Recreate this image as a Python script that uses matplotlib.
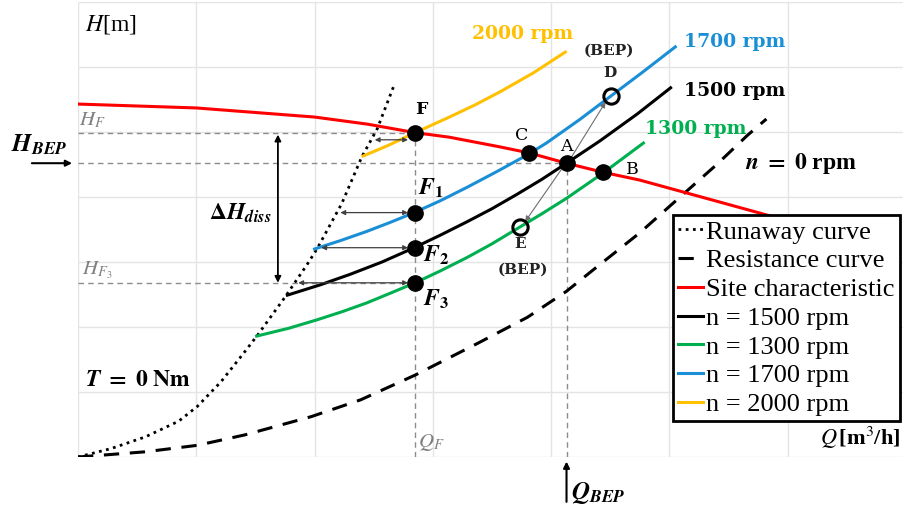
import numpy as np
import matplotlib
matplotlib.use("Agg")
import matplotlib.pyplot as plt

plt.rcParams['font.family'] = ['Liberation Serif', 'DejaVu Serif']
plt.rcParams['mathtext.fontset'] = 'stix'

# pump characteristics, Q and H in grid units
site_q = [0, 1.0, 2.0, 2.45, 2.85, 3.14, 3.57, 3.81, 4.13, 4.44, 4.75, 5.15, 5.77, 5.95]
site_h = [5.43, 5.37, 5.23, 5.12, 4.99, 4.92, 4.77, 4.68, 4.52, 4.38, 4.26, 4.06, 3.75, 3.66]

n1500_q = [1.77, 2.05, 2.30, 2.57, 2.83, 3.06, 3.29, 3.50, 3.71, 3.92, 4.13, 4.41, 4.73, 5.01]
n1500_h = [2.49, 2.65, 2.81, 3.00, 3.21, 3.41, 3.62, 3.82, 4.04, 4.27, 4.52, 4.86, 5.28, 5.68]

n1300_q = [1.51, 1.78, 2.02, 2.24, 2.44, 2.64, 2.85, 3.06, 3.29, 3.50, 3.71, 3.92, 4.13, 4.44, 4.78]
n1300_h = [1.86, 1.98, 2.11, 2.24, 2.37, 2.52, 2.68, 2.86, 3.07, 3.28, 3.51, 3.74, 3.98, 4.37, 4.83]

n1700_q = [2.0, 2.22, 2.44, 2.64, 2.83, 3.06, 3.29, 3.55, 3.80, 3.96, 4.24, 4.51, 4.78, 5.05]
n1700_h = [3.20, 3.33, 3.47, 3.61, 3.75, 3.94, 4.15, 4.40, 4.65, 4.83, 5.19, 5.56, 5.93, 6.31]

n2000_q = [2.41, 2.63, 2.85, 3.14, 3.36, 3.57, 3.85, 4.12]
n2000_h = [4.63, 4.80, 4.99, 5.23, 5.42, 5.62, 5.91, 6.23]

runaway_q = [0, 0.28, 0.57, 0.85, 1.01, 1.21, 1.41, 1.52, 1.75, 1.94, 2.02, 2.23, 2.40, 2.53, 2.67]
runaway_h = [0, 0.13, 0.31, 0.55, 0.78, 1.16, 1.62, 1.88, 2.46, 2.97, 3.20, 3.90, 4.62, 5.05, 5.71]

resist_q = [0, 0.57, 1.01, 1.41, 1.97, 2.39, 2.85, 3.38, 3.80, 4.13, 4.37, 4.75, 5.09, 5.40, 5.66, 5.82]
resist_h = [0, 0.08, 0.18, 0.34, 0.62, 0.88, 1.26, 1.75, 2.15, 2.55, 2.90, 3.45, 4.0, 4.5, 4.95, 5.2]

# operating points
pt_F = (2.85, 4.99)
pt_C = (3.81, 4.68)
pt_A = (4.13, 4.52)
pt_B = (4.44, 4.38)
pt_F1 = (2.85, 3.76)
pt_F2 = (2.85, 3.22)
pt_F3 = (2.85, 2.68)
pt_D = (4.51, 5.56)
pt_E = (3.74, 3.54)

RED = '#ff0000'
GREEN = '#00b050'
BLUE = '#1a8fd6'
YELLOW = '#ffc000'
GRAY = '#8c8c8c'

fig = plt.figure(figsize=(9.04, 5.14), dpi=100)
ax = fig.add_axes([0.0863, 0.1109, 0.9159, 0.8852])
ax.set_xlim(0, 7)
ax.set_ylim(0, 7)
ax.set_xticks(np.arange(0, 8))
ax.set_yticks(np.arange(0, 8))
ax.tick_params(length=0, labelbottom=False, labelleft=False)
ax.grid(True, color='#e4e4e4', lw=1)
for s in ax.spines.values():
    s.set_visible(False)

# guide lines to F, F3 and A
dash = (0, (4, 3))
ax.plot([0, pt_F[0]], [pt_F[1], pt_F[1]], ls=dash, color=GRAY, lw=1)
ax.plot([0, pt_A[0]], [pt_A[1], pt_A[1]], ls=dash, color=GRAY, lw=1)
ax.plot([0, pt_F3[0]], [pt_F3[1], pt_F3[1]], ls=dash, color=GRAY, lw=1)
ax.plot([pt_F[0], pt_F[0]], [0, pt_F[1]], ls=dash, color=GRAY, lw=1)
ax.plot([pt_A[0], pt_A[0]], [0, pt_A[1]], ls=dash, color=GRAY, lw=1)

ax.plot(runaway_q, runaway_h, color='black', ls=(0, (1, 1.6)), lw=2, label='Runaway curve')
ax.plot(resist_q, resist_h, color='black', ls=(0, (5, 3.5)), lw=2.2, label='Resistance curve')
ax.plot(site_q, site_h, color=RED, lw=2.2, label='Site characteristic')
ax.plot(n1500_q, n1500_h, color='black', lw=2.2, label='n = 1500 rpm')
ax.plot(n1300_q, n1300_h, color=GREEN, lw=2.2, label='n = 1300 rpm')
ax.plot(n1700_q, n1700_h, color=BLUE, lw=2.2, label='n = 1700 rpm')
ax.plot(n2000_q, n2000_h, color=YELLOW, lw=2.2, label='n = 2000 rpm')

# small arrows from the runaway curve to the F points
for y in [pt_F[1] - 0.11, pt_F1[1], pt_F2[1], pt_F3[1]]:
    x0 = np.interp(y, runaway_h, runaway_q) + 0.03
    ax.annotate('', xy=(pt_F[0] - 0.06, y), xytext=(x0, y),
                arrowprops=dict(arrowstyle='<|-|>', color='#404040', lw=0.9,
                                mutation_scale=7, shrinkA=0, shrinkB=0))

# BEP shifts A -> D and A -> E
ax.annotate('', xy=(pt_D[0] - 0.05, pt_D[1] - 0.1), xytext=(pt_A[0] + 0.03, pt_A[1] + 0.06),
            arrowprops=dict(arrowstyle='-|>', color='#6e6e6e', lw=0.8,
                            mutation_scale=8, shrinkA=0, shrinkB=0))
ax.annotate('', xy=(pt_E[0] + 0.04, pt_E[1] + 0.08), xytext=(pt_A[0] - 0.03, pt_A[1] - 0.06),
            arrowprops=dict(arrowstyle='-|>', color='#6e6e6e', lw=0.8,
                            mutation_scale=8, shrinkA=0, shrinkB=0))

# delta H_diss
ax.annotate('', xy=(1.69, pt_F[1] - 0.03), xytext=(1.69, pt_F3[1]),
            arrowprops=dict(arrowstyle='<|-|>', color='black', lw=1.3,
                            mutation_scale=9, shrinkA=0, shrinkB=0))

# H_BEP and Q_BEP arrows outside the axes
ax.annotate('', xy=(-0.05, pt_A[1]), xytext=(-0.39, pt_A[1]), annotation_clip=False,
            arrowprops=dict(arrowstyle='-|>', color='black', lw=1.5,
                            mutation_scale=9, shrinkA=0, shrinkB=0))
ax.annotate('', xy=(pt_A[0], -0.07), xytext=(pt_A[0], -0.69), annotation_clip=False,
            arrowprops=dict(arrowstyle='-|>', color='black', lw=1.5,
                            mutation_scale=9, shrinkA=0, shrinkB=0))

for p in [pt_F, pt_C, pt_A, pt_B, pt_F1, pt_F2, pt_F3]:
    ax.plot(*p, 'o', color='black', ms=11, zorder=5)
for p in [pt_D, pt_E]:
    ax.plot(*p, 'o', mfc='none', mec='black', mew=2.2, ms=11, zorder=5)

bold_serif = dict(family='DejaVu Serif', fontweight='bold')
ax.text(3.76, 6.51, '2000 rpm', color=YELLOW, fontsize=13.5, ha='center', va='center', **bold_serif)
ax.text(5.55, 6.38, '1700 rpm', color=BLUE, fontsize=13.5, ha='center', va='center', **bold_serif)
ax.text(5.55, 5.63, '1500 rpm', color='black', fontsize=13.5, ha='center', va='center', **bold_serif)
ax.text(5.22, 5.05, '1300 rpm', color=GREEN, fontsize=13.5, ha='center', va='center', **bold_serif)
ax.text(4.49, 6.25, '(BEP)', color='#222222', fontsize=11, ha='center', va='center', **bold_serif)
ax.text(4.50, 5.91, 'D', color='#222222', fontsize=11, ha='center', va='center', **bold_serif)
ax.text(3.74, 3.28, 'E', color='#222222', fontsize=11, ha='center', va='center', **bold_serif)
ax.text(3.76, 2.88, '(BEP)', color='#222222', fontsize=11, ha='center', va='center', **bold_serif)
ax.text(2.90, 5.34, 'F', fontsize=12.5, ha='center', va='center', **bold_serif)
ax.text(3.75, 4.94, 'C', fontsize=12.5, ha='center', va='center', family='DejaVu Serif')
ax.text(4.13, 4.77, 'A', fontsize=12.5, ha='center', va='center', family='DejaVu Serif')
ax.text(4.69, 4.42, 'B', fontsize=12.5, ha='center', va='center', family='DejaVu Serif')

ax.text(2.98, 4.14, r'$\mathbfit{F}_{\mathbf{1}}$', fontsize=17, ha='center', va='center')
ax.text(3.03, 3.11, r'$\mathbfit{F}_{\mathbf{2}}$', fontsize=17, ha='center', va='center')
ax.text(3.03, 2.42, r'$\mathbfit{F}_{\mathbf{3}}$', fontsize=17, ha='center', va='center')
ax.text(6.11, 4.52, r'$\mathbfit{n}\ \mathbf{=\ 0}$ rpm', fontsize=17, fontweight='bold',
        ha='center', va='center')
ax.text(1.37, 3.75, r'$\mathbf{\Delta}\mathbfit{H}_{\mathbfit{diss}}$', fontsize=17,
        ha='center', va='center')
ax.text(0.51, 1.17, r'$\mathbfit{T}\ \mathbf{=\ 0\ Nm}$', fontsize=17, ha='center', va='center')

ax.text(0.06, 6.65, r'$H$[m]', fontsize=17, ha='left', va='center')
ax.text(6.61, 0.29, r'$Q\,$[m$^3$/h]', fontsize=16, fontweight='bold', ha='center', va='center')
ax.text(0.12, 5.18, r'$H_F$', fontsize=15, color='#7f7f7f', ha='center', va='center')
ax.text(0.16, 2.88, r'$H_{F_3}$', fontsize=15, color='#7f7f7f', ha='center', va='center')
ax.text(2.99, 0.23, r'$Q_F$', fontsize=15, color='#7f7f7f', ha='center', va='center')
ax.text(-0.33, 4.80, r'$\mathbfit{H}_{\mathbfit{BEP}}$', fontsize=18, ha='center', va='center',
        clip_on=False)
ax.text(4.40, -0.55, r'$\mathbfit{Q}_{\mathbfit{BEP}}$', fontsize=18, ha='center', va='center',
        clip_on=False)

leg = ax.legend(loc='upper left', bbox_to_anchor=(0.7186, 0.532), borderaxespad=0,
                fontsize=19, handlelength=0.95, handletextpad=0.1, labelspacing=0.2,
                borderpad=0.2, fancybox=False, framealpha=1, edgecolor='black')
leg.get_frame().set_linewidth(2)

fig.savefig('out.png', dpi=100)
